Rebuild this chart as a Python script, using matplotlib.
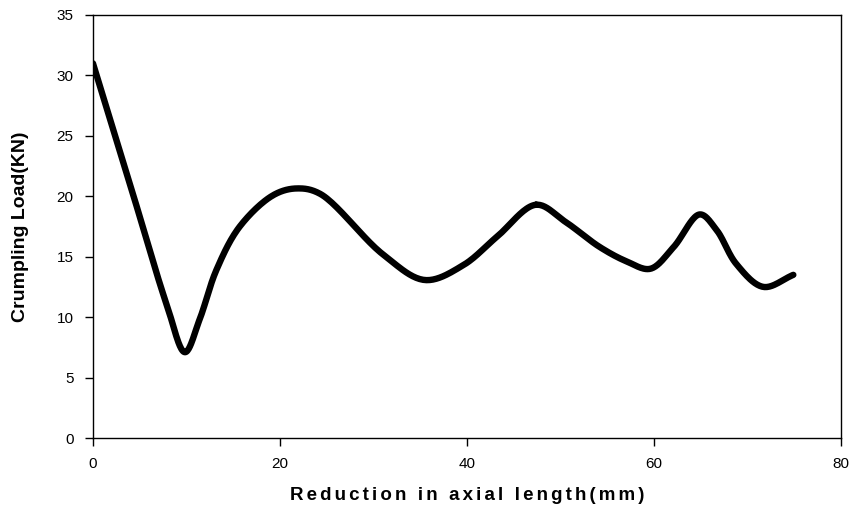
import matplotlib.pyplot as plt
import numpy as np

# Puntos
reduccion = [0, 4, 7.9, 9.84, 11.4, 13.2, 15.7, 19.3, 21.8, 24.3, 31, 35.5, 39.6,
             43.2, 47.4, 50.5, 54.2, 57.1, 59.6, 62.1, 64.9, 66.7, 68.8, 71.7, 74.9]
carga = [31, 20.9, 11.0, 7.1, 9.8, 13.9, 17.5, 20.1, 20.65, 20.2, 15.2, 13.07, 14.3,
         16.65, 19.3, 17.9, 15.8, 14.6, 14.0, 15.8, 18.5, 17.2, 14.4, 12.5, 13.5]

x_ticks = [0, 20, 40, 60, 80]
y_ticks = [0, 5, 10, 15, 20, 25, 30, 35]


def catmull_rom(x, y, sx=9.35, sy=12.09, n=25, alpha=0.5):
    # Catmull-Rom centripeto (las distancias se miden en escala de pantalla)
    p = np.column_stack([np.asarray(x, float) * sx, np.asarray(y, float) * sy])
    p = np.vstack([2 * p[0] - p[1], p, 2 * p[-1] - p[-2]])
    out = []
    for i in range(1, len(p) - 2):
        P0, P1, P2, P3 = p[i - 1], p[i], p[i + 1], p[i + 2]
        t0 = 0.0
        t1 = t0 + np.linalg.norm(P1 - P0) ** alpha
        t2 = t1 + np.linalg.norm(P2 - P1) ** alpha
        t3 = t2 + np.linalg.norm(P3 - P2) ** alpha
        t = np.linspace(t1, t2, n)[:, None]
        A1 = (t1 - t) / (t1 - t0) * P0 + (t - t0) / (t1 - t0) * P1
        A2 = (t2 - t) / (t2 - t1) * P1 + (t - t1) / (t2 - t1) * P2
        A3 = (t3 - t) / (t3 - t2) * P2 + (t - t2) / (t3 - t2) * P3
        B1 = (t2 - t) / (t2 - t0) * A1 + (t - t0) / (t2 - t0) * A2
        B2 = (t3 - t) / (t3 - t1) * A2 + (t - t1) / (t3 - t1) * A3
        C = (t2 - t) / (t2 - t1) * B1 + (t - t1) / (t2 - t1) * B2
        out.append(C)
    out = np.vstack(out)
    return out[:, 0] / sx, out[:, 1] / sy


xs, ys = catmull_rom(reduccion, carga)

plt.rcParams['font.family'] = ['Liberation Sans', 'DejaVu Sans']

fig = plt.figure(figsize=(8.56, 5.15), dpi=100)
ax = fig.add_axes([0.1086, 0.1495, 0.8739, 0.8214])

ax.plot(xs, ys, color='black', linewidth=4.6, solid_capstyle='round')

ax.set_xlim(0, 80)
ax.set_ylim(0, 35)
ax.set_xticks(x_ticks)
ax.set_yticks(y_ticks)
ax.tick_params(direction='out', length=6, width=1, labelsize=11, pad=8)
for s in ax.spines.values():
    s.set_linewidth(1)

ax.set_xlabel('\u2006'.join('Reduction in axial length(mm)'), fontsize=13.5,
              fontweight='bold', labelpad=11)
ax.set_ylabel('Crumpling Load(KN)', fontsize=14, fontweight='bold', labelpad=20)

fig.savefig('out.png', dpi=100)
